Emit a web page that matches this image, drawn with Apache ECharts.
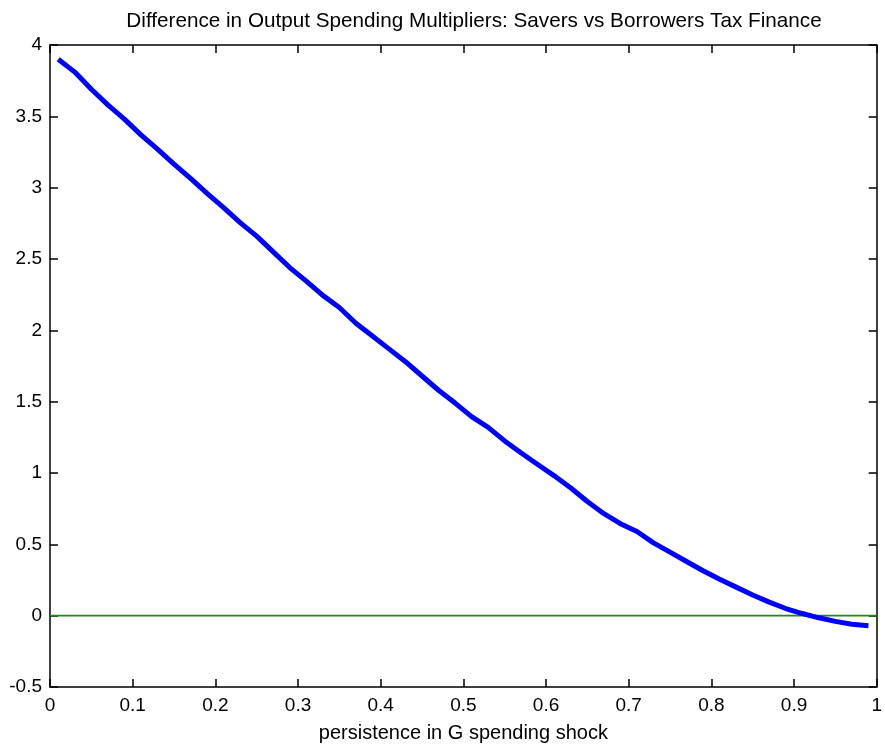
<!DOCTYPE html>
<html>
<head>
<meta charset="utf-8">
<script src="https://cdn.jsdelivr.net/npm/echarts@6/dist/echarts.min.js"></script>
<style>
html,body{margin:0;padding:0;background:#fff;}
#c{width:885px;height:749px;}
</style>
</head>
<body>
<div id="c"></div>
<script>
var titleText = 'Difference in Output Spending Multipliers: Savers vs Borrowers Tax Finance';
var xName = 'persistence in G spending shock';
var persistence = [0.01,0.03,0.05,0.07,0.09,0.11,0.13,0.15,0.17,0.19,0.21,0.23,0.25,0.27,0.29,0.31,0.33,0.35,0.37,0.39,0.41,0.43,0.45,0.47,0.49,0.51,0.53,0.55,0.57,0.59,0.61,0.63,0.65,0.67,0.69,0.71,0.73,0.75,0.77,0.79,0.81,0.83,0.85,0.87,0.89,0.91,0.93,0.95,0.97,0.99];
var difference = [3.90,3.81,3.69,3.58,3.48,3.37,3.27,3.165,3.065,2.96,2.86,2.755,2.66,2.55,2.44,2.345,2.245,2.16,2.05,1.96,1.87,1.78,1.68,1.58,1.49,1.395,1.32,1.225,1.14,1.06,0.98,0.895,0.80,0.715,0.645,0.59,0.51,0.445,0.38,0.315,0.255,0.20,0.145,0.095,0.05,0.015,-0.015,-0.04,-0.06,-0.07];
var zeroX = [0, 1];
var zeroY = [0, 0];

var font = 'Liberation Sans, Arial, sans-serif';
var chart = echarts.init(document.getElementById('c'), null, {renderer:'canvas'});
var axisLine = {show:true, onZero:false, lineStyle:{color:'#000', width:1.5}};
var tick = {show:true, inside:true, length:8, lineStyle:{color:'#000', width:1.5}};
chart.setOption({
  animation:false,
  backgroundColor:'#fff',
  title:{text:titleText, left:469, top:6, textAlign:'center',
    textStyle:{fontFamily:font, fontSize:20.7, fontWeight:'normal', color:'#000'}},
  grid:{left:50, right:7, top:45, bottom:62, containLabel:false},
  xAxis:[
    {type:'value', min:0, max:1, interval:0.1, position:'bottom',
     name:xName, nameLocation:'middle', nameGap:36,
     nameTextStyle:{fontFamily:font, fontSize:20, color:'#000'},
     axisLine:axisLine, axisTick:tick, splitLine:{show:false},
     axisLabel:{fontFamily:font, fontSize:19, color:'#000', margin:9}},
    {type:'value', min:0, max:1, interval:0.1, position:'top',
     axisLine:axisLine, axisTick:tick, splitLine:{show:false}, axisLabel:{show:false}}
  ],
  yAxis:[
    {type:'value', min:-0.5, max:4, interval:0.5, position:'left',
     axisLine:axisLine, axisTick:tick, splitLine:{show:false},
     axisLabel:{fontFamily:font, fontSize:19, color:'#000', margin:8}},
    {type:'value', min:-0.5, max:4, interval:0.5, position:'right',
     axisLine:axisLine, axisTick:tick, splitLine:{show:false}, axisLabel:{show:false}}
  ],
  series:[
    {type:'line', data:zeroX.map(function(x,i){return [x, zeroY[i]];}),
     showSymbol:false, lineStyle:{color:'#1a8c1a', width:1.8}, z:2},
    {type:'line', data:persistence.map(function(x,i){return [x, difference[i]];}),
     showSymbol:false, lineStyle:{color:'#0000ff', width:5}, z:3}
  ]
});
</script>
</body>
</html>
